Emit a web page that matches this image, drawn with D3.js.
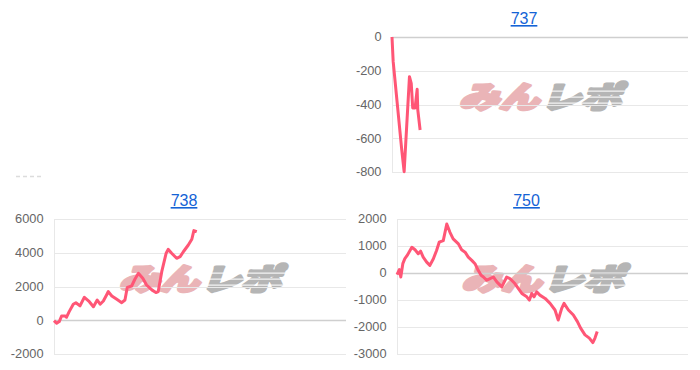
<!DOCTYPE html>
<html>
<head>
<meta charset="utf-8">
<script src="https://cdn.jsdelivr.net/npm/d3@7"></script>
<style>
  body { margin: 0; background: #fff; }
  #chart { width: 700px; height: 370px; }
</style>
</head>
<body>
<div id="chart"></div>
<script>
// machine numbers
const titles = ["737", "738", "750"];

// x = share of the day's games (0-100), y = coin difference
const x737 = [0, 0.4, 3.3, 4.1, 5.9, 6.5, 7.0, 7.8, 8.5, 8.7, 9.5];
const y737 = [0, -146, -670, -798, -235, -275, -420, -420, -310, -430, -551];

const x738 = [0, 0.9, 1.8, 2.6, 3.8, 4.3, 5.2, 6.6, 7.5, 8.9, 10.4, 11.2, 12.1, 13.5, 14.8, 15.8, 16.9, 18.0, 18.6, 19.8,
    21.5, 23.2, 24.3, 25.1, 26.6, 27.7, 28.9, 30.4, 31.7, 33.5, 34.9, 35.7, 36.9, 38.4, 39.1, 40.3, 42.0, 43.2, 44.3,
    46.0, 47.2, 47.9, 48.9];
const y738 = [-20, -180, -80, 250, 250, 180, 510, 950, 1040, 850, 1360, 1240, 1100, 800, 1200, 950, 1140, 1500, 1700, 1440,
    1240, 1040, 1200, 1950, 2030, 2430, 2780, 2490, 2090, 1800, 1640, 1700, 2880, 3970, 4200, 3970, 3670, 3770, 4060,
    4460, 4800, 5310, 5250];

const x750 = [0, 0.8, 1.3, 2.0, 2.7, 3.5, 5.1, 6.2, 7.3, 8.1, 9.0, 10.2, 11.3, 12.5, 13.6, 14.5, 15.9, 17.1, 18.2, 19.3,
    21.1, 22.2, 23.4, 24.5, 25.7, 26.8, 27.9, 28.9, 29.7, 30.8, 32.0, 33.1, 34.3, 36.0, 37.7, 38.8, 40.5, 42.9, 44.6,
    45.5, 46.3, 47.1, 48.0, 49.1, 50.9, 52.6, 54.3, 55.4, 56.6, 57.4, 58.9, 60.6, 62.0, 63.1, 64.6, 66.1, 67.3, 68.0, 68.8];
const y750 = [-60, 125, -147, 345, 530, 650, 955, 860, 713, 808, 588, 404, 283, 530, 835, 1140, 1200, 1815, 1507, 1264,
    1080, 860, 772, 588, 467, 345, 100, -85, -147, -268, -206, -147, -330, -515, -147, -206, -390, -757, -882,
    -1004, -757, -882, -698, -820, -941, -1125, -1371, -1739, -1309, -1125, -1371, -1555, -1801, -2044, -2290, -2411, -2580, -2420, -2169];

const ticks737 = [0, -200, -400, -600, -800];
const ticks738 = [6000, 4000, 2000, 0, -2000];
const ticks750 = [2000, 1000, 0, -1000, -2000, -3000];

const panels = [
    { title: titles[0], xs: x737, ys: y737, ticks: ticks737, box: { left: 392, right: 688, top: 37, bottom: 172 } },
    { title: titles[1], xs: x738, ys: y738, ticks: ticks738, box: { left: 54, right: 346, top: 219, bottom: 354 } },
    { title: titles[2], xs: x750, ys: y750, ticks: ticks750, box: { left: 397, right: 688, top: 219, bottom: 354 } }
];

const svg = d3.select("#chart")
    .append("svg")
    .attr("width", 700)
    .attr("height", 370);

// faint remnant at top left
svg.append("line")
    .attr("x1", 16).attr("x2", 42)
    .attr("y1", 176.5).attr("y2", 176.5)
    .attr("stroke", "#dcdcdc")
    .attr("stroke-width", 1.5)
    .attr("stroke-dasharray", "4,3");

function drawPanel(p) {
    const b = p.box;
    const xScale = d3.scaleLinear().domain([0, 100]).range([b.left, b.right]);
    const yScale = d3.scaleLinear().domain(d3.extent(p.ticks)).range([b.bottom, b.top]);
    const g = svg.append("g");

    // title link
    g.append("text")
        .attr("x", (b.left + b.right) / 2 - 16)
        .attr("y", b.top - 13)
        .attr("text-anchor", "middle")
        .attr("font-family", "'Liberation Sans', Arial, sans-serif")
        .attr("font-size", "16px")
        .attr("fill", "#1463d6")
        .attr("text-decoration", "underline")
        .text(p.title);

    // watermark
    const cx = (b.left + b.right) / 2;
    const cy = (b.top + b.bottom) / 2 - 9;
    const wm = g.append("g").attr("transform", `translate(${cx},${cy + 12}) skewX(-18)`);
    wm.append("text")
        .attr("x", -81).attr("y", 0)
        .attr("textLength", 80)
        .attr("lengthAdjust", "spacingAndGlyphs")
        .attr("font-family", "'Noto Sans CJK JP', sans-serif")
        .attr("font-weight", "900")
        .attr("font-size", "30px")
        .attr("fill", "#eab4b7")
        .attr("stroke", "#eab4b7")
        .attr("stroke-width", 3)
        .attr("stroke-linejoin", "round")
        .text("みん");
    wm.append("text")
        .attr("x", 1).attr("y", 0)
        .attr("textLength", 80)
        .attr("lengthAdjust", "spacingAndGlyphs")
        .attr("font-family", "'Noto Sans CJK JP', sans-serif")
        .attr("font-weight", "900")
        .attr("font-size", "30px")
        .attr("fill", "#b5b5b5")
        .attr("stroke", "#b5b5b5")
        .attr("stroke-width", 3)
        .attr("stroke-linejoin", "round")
        .text("レポ");
    wm.selectAll(".stripe")
        .data([-17, -11, -5])
        .enter().append("rect")
        .attr("class", "stripe")
        .attr("x", 4).attr("width", 82)
        .attr("y", d => d).attr("height", 1.3)
        .attr("fill", "#fff")
        .attr("opacity", 0.85);

    // grid
    g.selectAll(".grid")
        .data(p.ticks)
        .enter().append("line")
        .attr("class", "grid")
        .attr("x1", b.left)
        .attr("x2", b.right)
        .attr("y1", d => Math.round(yScale(d)) + 0.5)
        .attr("y2", d => Math.round(yScale(d)) + 0.5)
        .attr("stroke", d => d === 0 ? "#cfcfcf" : "#e8e8e8")
        .attr("stroke-width", d => d === 0 ? 1.5 : 1);

    g.append("line")
        .attr("x1", b.left + 0.5).attr("x2", b.left + 0.5)
        .attr("y1", b.top).attr("y2", b.bottom)
        .attr("stroke", "#e8e8e8");

    g.selectAll(".tick-label")
        .data(p.ticks)
        .enter().append("text")
        .attr("class", "tick-label")
        .attr("x", b.left - 10.5)
        .attr("y", d => yScale(d))
        .attr("dy", "0.35em")
        .attr("text-anchor", "end")
        .attr("font-family", "'Liberation Sans', Arial, sans-serif")
        .attr("font-size", "12.8px")
        .attr("fill", "#666")
        .text(d => d);

    const pts = p.xs.map((x, i) => [x, p.ys[i]]);
    const line = d3.line()
        .x(d => xScale(d[0]))
        .y(d => yScale(d[1]));

    g.append("path")
        .datum(pts)
        .attr("d", line)
        .attr("fill", "none")
        .attr("stroke", "#ff5676")
        .attr("stroke-width", 3)
        .attr("stroke-linejoin", "round");
}

panels.forEach(drawPanel);
</script>
</body>
</html>
